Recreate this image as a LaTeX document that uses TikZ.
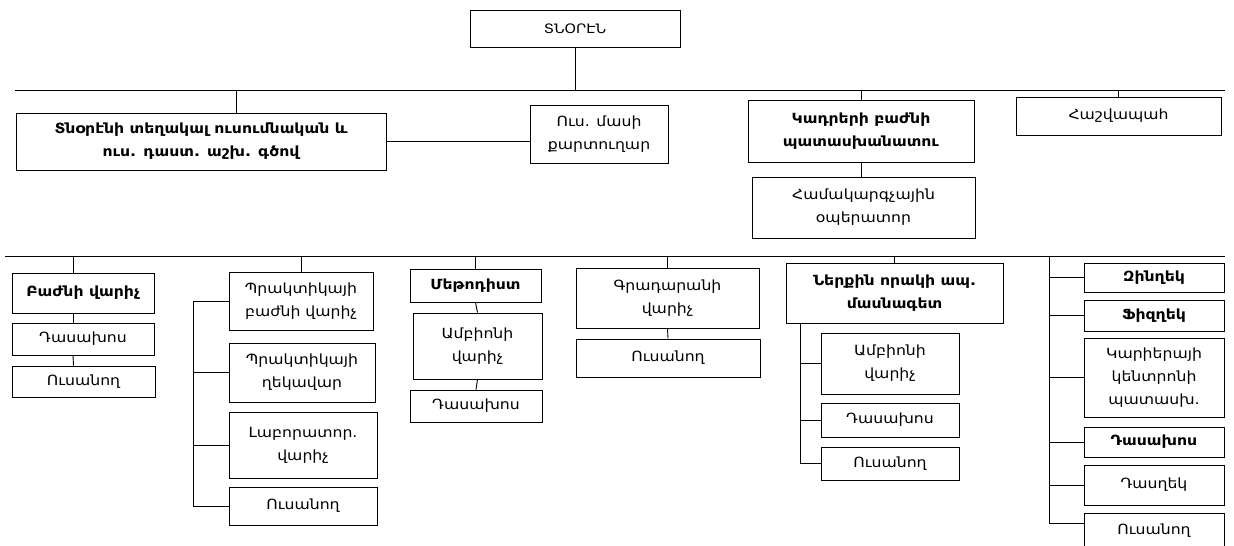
\documentclass[tikz,border=0pt]{standalone}
\usepackage{fontspec}
\setmainfont{DejaVu Sans}[FakeStretch=1.12]
\newcommand\mybox[7]{\node[box,#7,minimum width=\fpeval{#4-#2}pt,minimum height=\fpeval{#5-#3}pt] (#1) at (\fpeval{(#2+#4)/2},\fpeval{(#3+#5)/2}) {#6};}
\begin{document}
\begin{tikzpicture}[x=1pt,y=-1pt,
  box/.style={draw, line width=0.9pt, align=center, inner sep=1pt, font=\fontsize{14}{23}\selectfont},
  bold/.style={font=\fontsize{14}{23}\selectfont\bfseries},
  ln/.style={line width=0.9pt}]
\useasboundingbox (0,0) rectangle (1234,546);
\fill[white] (0,0) rectangle (1234,546);
% top level
\mybox{dir}{470}{10}{680}{47}{ՏՆՕՐԷՆ}{font=\fontsize{13}{15}\selectfont}
\mybox{dep}{16}{113}{386}{170}{Տնօրէնի տեղակալ ուսումնական և\\ուս. դաստ. աշխ. գծով}{bold}
\mybox{usm}{530}{105}{668}{163}{Ուս. մասի\\քարտուղար}{}
\mybox{hr}{748}{100}{974}{162}{Կադրերի բաժնի\\պատասխանատու}{bold}
\mybox{op}{752}{177}{975}{238}{Համակարգչային\\օպերատոր}{}
\mybox{acc}{1016}{97}{1221}{135}{Հաշվապահ}{}
% lower level
\mybox{ba}{12}{273}{154}{313}{Բաժնի վարիչ}{bold}
\mybox{da1}{12}{323}{154}{355}{Դասախոս}{}
\mybox{us1}{12}{366}{155}{397}{Ուսանող}{}
\mybox{p1}{229}{272}{373}{330}{Պրակտիկայի\\բաժնի վարիչ}{}
\mybox{p2}{229}{343}{375}{402}{Պրակտիկայի\\ղեկավար}{}
\mybox{p3}{229}{412}{377}{478}{Լաբորատոր.\\վարիչ}{}
\mybox{p4}{229}{487}{377}{525}{Ուսանող}{}
\mybox{m1}{410}{269}{541}{302}{Մեթոդիստ}{bold}
\mybox{m2}{413}{313}{542}{379}{Ամբիոնի\\վարիչ}{}
\mybox{m3}{410}{390}{542}{422}{Դասախոս}{}
\mybox{g1}{576}{268}{759}{328}{Գրադարանի\\վարիչ}{}
\mybox{g2}{576}{339}{760}{377}{Ուսանող}{}
\mybox{n1}{786}{263}{1003}{323}{Ներքին որակի ապ.\\մասնագետ}{bold}
\mybox{n2}{821}{333}{959}{394}{Ամբիոնի\\վարիչ}{}
\mybox{n3}{821}{403}{959}{437}{Դասախոս}{}
\mybox{n4}{821}{447}{959}{480}{Ուսանող}{}
\mybox{r1}{1084}{263}{1224}{292}{Զինղեկ}{bold}
\mybox{r2}{1084}{300}{1224}{331}{Ֆիզղեկ}{bold}
\mybox{r3}{1084}{338}{1224}{417}{Կարիերայի\\կենտրոնի\\պատասխ.}{}
\mybox{r4}{1084}{427}{1224}{457}{Դասախոս}{bold}
\mybox{r5}{1084}{465}{1224}{505}{Դասղեկ}{}
\mybox{r6}{1084}{513}{1224}{549}{Ուսանող}{}
% buses
\coordinate (b1L) at (15,90); \coordinate (b1R) at (1225,90);
\coordinate (b2L) at (5,256); \coordinate (b2R) at (1225,256);
\draw[ln] (b1L) -- (b1R);
\draw[ln] (b2L) -- (b2R);
% top connectors
\draw[ln] (dir.south) -- (dir.south |- b1L);
\draw[ln] ([xshift=35pt]dep.north) -- ([xshift=35pt]dep.north |- b1L);
\draw[ln] (dep.east) -- (dep.east -| usm.west);
\draw[ln] (hr.north) -- (hr.north |- b1L);
\draw[ln] (hr.south) -- (hr.south |- op.north);
\draw[ln] (acc.north) -- (acc.north |- b1L);
% left column
\draw[ln] ([xshift=-10pt]ba.north) -- ([xshift=-10pt]ba.north |- b2L);
\draw[ln] ([xshift=-10pt]ba.south) -- ([xshift=-10pt]da1.north);
\draw[ln] ([xshift=-10pt]da1.south) -- ([xshift=-10pt]us1.north);
% practice column
\coordinate (pbx) at (193,0);
\draw[ln] (p1.north) -- (p1.north |- b2L);
\draw[ln] (p1.west -| pbx) -- (p4.west -| pbx);
\foreach \n in {p1,p2,p3,p4} \draw[ln] (\n.west) -- (\n.west -| pbx);
% methodist column
\draw[ln] (m1.north) -- (m1.north |- b2L);
\draw[ln] (m1.south) -- (m2.north);
\draw[ln] (m2.south) -- (m3.north);
% library
\draw[ln] (g1.north) -- (g1.north |- b2L);
\draw[ln] (g1.south) -- (g2.north);
% quality
\coordinate (nbx) at (800,0);
\draw[ln] (n1.north) -- (n1.north |- b2L);
\draw[ln] (n1.south -| nbx) -- (n4.west -| nbx);
\foreach \n in {n2,n3,n4} \draw[ln] (\n.west) -- (\n.west -| nbx);
% right column
\coordinate (rbx) at (1049,0);
\coordinate (r6s) at ([yshift=8pt]r6.west);
\draw[ln] (rbx |- b2L) -- (r6s -| rbx);
\foreach \n in {r1,r2,r3,r4,r5} \draw[ln] (\n.west) -- (\n.west -| rbx);
\draw[ln] (r6s) -- (r6s -| rbx);
\end{tikzpicture}
\end{document}
